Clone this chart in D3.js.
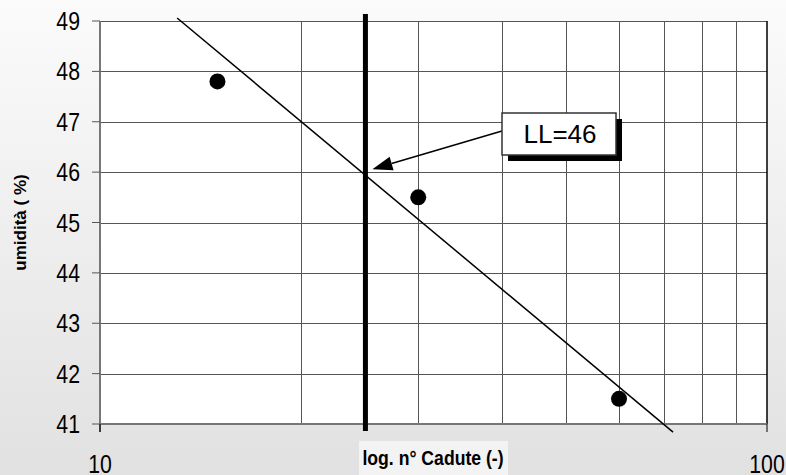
<!DOCTYPE html>
<head>
  <meta charset="utf-8">
  <script src="https://d3js.org/d3.v7.min.js"></script>
  <style>
    body { margin: 0; font-family: "Liberation Sans", Arial, sans-serif; }
    .tick-label { font-size: 25px; fill: #000; }
    .grid { stroke: #555; stroke-width: 1px; shape-rendering: crispEdges; }
    .axis-line { stroke: #777; stroke-width: 1.5px; shape-rendering: crispEdges; }
    .title { font-weight: bold; }
  </style>
</head>
<body>
  <script>
    // dati
    var cadute = [15, 30, 60];
    var umidita = [47.8, 45.5, 41.5];
    var retta = [[13.05, 49.06], [72.3, 40.84]];
    var limiteLiquido = 25;
    var valoreLL = 46;
    var yTicks = [41, 42, 43, 44, 45, 46, 47, 48, 49];
    var xGrid = [20, 30, 40, 50, 60, 70, 80, 90];
    var xTickLabels = [10, 100];

    var W = 786, H = 475;
    var margin = {top: 21, right: 19, bottom: 51, left: 100};
    var width = W - margin.left - margin.right,
        height = H - margin.top - margin.bottom;

    // il testo originale e' un po' "stretto"
    var narrow = 0.85;

    var svg = d3.select("body").append("svg")
        .attr("width", W)
        .attr("height", H);

    var grad = svg.append("defs").append("linearGradient")
        .attr("id", "bg").attr("x1", 0).attr("y1", 0).attr("x2", 0).attr("y2", 1);
    grad.append("stop").attr("offset", "0%").attr("stop-color", "#fbfbfb");
    grad.append("stop").attr("offset", "100%").attr("stop-color", "#e1e1e1");

    svg.append("rect").attr("width", W).attr("height", H).attr("fill", "url(#bg)");

    var g = svg.append("g")
        .attr("transform", "translate(" + margin.left + "," + margin.top + ")");

    var x = d3.scaleLog().domain([10, 100]).range([0, width]);
    var y = d3.scaleLinear().domain([41, 49]).range([height, 0]);

    g.append("rect").attr("width", width).attr("height", height).attr("fill", "#fff");

    // griglia
    g.selectAll(".hgrid").data(yTicks).enter().append("line")
        .attr("class", "grid")
        .attr("x1", 0).attr("x2", width)
        .attr("y1", function(d) { return Math.round(y(d)) + 0.5; })
        .attr("y2", function(d) { return Math.round(y(d)) + 0.5; });

    g.selectAll(".vgrid").data(xGrid).enter().append("line")
        .attr("class", "grid")
        .attr("stroke", "#666")
        .attr("y1", 0).attr("y2", height)
        .attr("x1", function(d) { return Math.round(x(d)) + 0.5; })
        .attr("x2", function(d) { return Math.round(x(d)) + 0.5; });

    // bordo destro
    g.append("line").attr("x1", width).attr("x2", width).attr("y1", 0).attr("y2", height)
        .attr("stroke", "#000").attr("stroke-width", 1.5);

    // assi
    g.append("line").attr("class", "axis-line")
        .attr("x1", 0).attr("x2", width).attr("y1", height).attr("y2", height);
    g.append("line").attr("class", "axis-line")
        .attr("x1", 0).attr("x2", 0).attr("y1", 0).attr("y2", height + 8);

    g.selectAll(".ytick").data(yTicks).enter().append("line")
        .attr("stroke", "#555")
        .attr("x1", -8).attr("x2", 0)
        .attr("y1", function(d) { return y(d); })
        .attr("y2", function(d) { return y(d); });

    g.selectAll(".ylab").data(yTicks).enter().append("text")
        .attr("class", "tick-label")
        .attr("transform", function(d) { return "translate(-20," + y(d) + ") scale(" + narrow + ",1)"; })
        .attr("dy", "0.36em")
        .attr("text-anchor", "end")
        .text(function(d) { return d; });

    g.selectAll(".xtick").data(xTickLabels).enter().append("line")
        .attr("stroke", "#000")
        .attr("x1", function(d) { return x(d); })
        .attr("x2", function(d) { return x(d); })
        .attr("y1", height).attr("y2", height + 8);

    g.selectAll(".xlab").data(xTickLabels).enter().append("text")
        .attr("class", "tick-label")
        .attr("transform", function(d) { return "translate(" + x(d) + "," + (height + 49) + ") scale(" + narrow + ",1)"; })
        .attr("text-anchor", "middle")
        .text(function(d) { return d; });

    // linea verticale LL
    g.append("line")
        .attr("x1", x(limiteLiquido)).attr("x2", x(limiteLiquido))
        .attr("y1", -7).attr("y2", height + 7)
        .attr("stroke", "#000").attr("stroke-width", 5);

    // retta di regressione
    g.append("line")
        .attr("x1", x(retta[0][0])).attr("y1", y(retta[0][1]))
        .attr("x2", x(retta[1][0])).attr("y2", y(retta[1][1]))
        .attr("stroke", "#000").attr("stroke-width", 1.5);

    // punti
    g.selectAll(".dot").data(cadute).enter().append("circle")
        .attr("cx", function(d) { return x(d); })
        .attr("cy", function(d, i) { return y(umidita[i]); })
        .attr("r", 8)
        .attr("fill", "#000");

    // freccia e riquadro
    var tipX = x(limiteLiquido) + 7, tipY = y(valoreLL) - 3;
    var boxX = 402, boxY = 92, boxW = 114, boxH = 42;
    var sx = boxX, sy = boxY + 18;
    var ang = Math.atan2(tipY - sy, tipX - sx);
    var hl = 20, hw = 7;
    var bx = tipX - hl * Math.cos(ang), by = tipY - hl * Math.sin(ang);
    g.append("line").attr("x1", sx).attr("y1", sy).attr("x2", bx).attr("y2", by)
        .attr("stroke", "#000").attr("stroke-width", 1.5);
    g.append("path")
        .attr("d", "M" + tipX + "," + tipY +
          "L" + (bx + hw * Math.sin(ang)) + "," + (by - hw * Math.cos(ang)) +
          "L" + (bx - hw * Math.sin(ang)) + "," + (by + hw * Math.cos(ang)) + "Z")
        .attr("fill", "#000");

    g.append("rect").attr("x", boxX + 6).attr("y", boxY + 6)
        .attr("width", boxW).attr("height", boxH).attr("fill", "#000");
    g.append("rect").attr("x", boxX).attr("y", boxY)
        .attr("width", boxW).attr("height", boxH)
        .attr("fill", "#fff").attr("stroke", "#333").attr("stroke-width", 1.5);
    g.append("text")
        .attr("x", boxX + boxW / 2 + 1).attr("y", boxY + boxH / 2)
        .attr("dy", "0.36em")
        .attr("text-anchor", "middle")
        .style("font-size", "26px")
        .text("LL=" + valoreLL);

    // titoli assi
    svg.append("rect").attr("x", 359).attr("y", 441).attr("width", 149).attr("height", 34)
        .attr("fill", "#f3f3f3");
    svg.append("text").attr("class", "title")
        .attr("transform", "translate(433,465) scale(0.84,1)")
        .attr("text-anchor", "middle")
        .style("font-size", "21px")
        .text("log. n° Cadute (-)");

    svg.append("text").attr("class", "title")
        .attr("transform", "translate(26," + (margin.top + height / 2) + ") rotate(-90)")
        .attr("text-anchor", "middle")
        .style("font-size", "17px")
        .text("umidità ( %)");
  </script>
</body>
